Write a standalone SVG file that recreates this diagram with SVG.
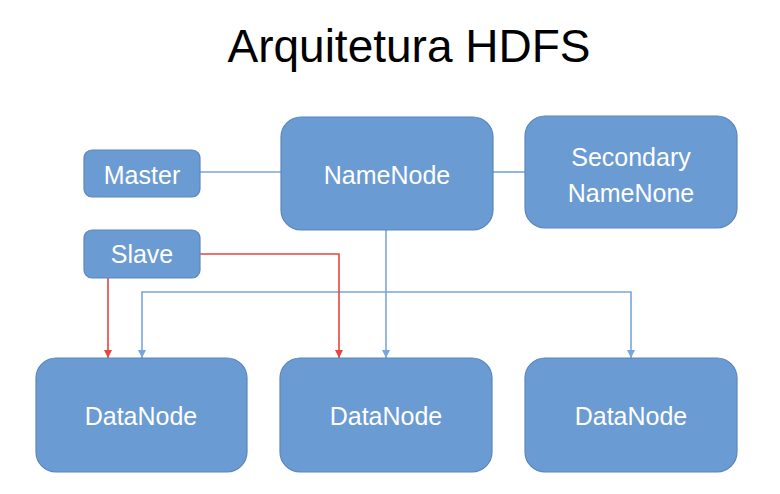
<svg xmlns="http://www.w3.org/2000/svg" width="780" height="494" viewBox="0 0 780 494">
<style>
.node{fill:#6b9bd3;stroke:#5a86bd;stroke-width:1.2}
.lbl{font-family:"Liberation Sans",Arial,sans-serif;font-size:25px;fill:#ffffff;text-anchor:middle}
.title{font-family:"Liberation Sans",Arial,sans-serif;font-size:46px;fill:#000;text-anchor:middle}
.blue{stroke:#79a5dc;stroke-width:1.6;fill:none}
.red{stroke:#e8453c;stroke-width:1.6;fill:none}
</style>
<defs>
<marker id="ab" viewBox="0 0 10 10" refX="10" refY="5" markerWidth="5" markerHeight="5" markerUnits="strokeWidth" orient="auto"><path d="M0,0L10,5L0,10z" fill="#79a5dc"/></marker>
<marker id="ar" viewBox="0 0 10 10" refX="10" refY="5" markerWidth="5" markerHeight="5" markerUnits="strokeWidth" orient="auto"><path d="M0,0L10,5L0,10z" fill="#e8453c"/></marker>
</defs>
<rect width="780" height="494" fill="#ffffff"/>
<text class="title" x="409" y="62">Arquitetura HDFS</text>
<g id="connectors">
<line class="blue" x1="200" y1="172" x2="281" y2="172"/>
<line class="blue" x1="493" y1="172" x2="525" y2="172"/>
<path class="blue" d="M386,230V358" marker-end="url(#ab)"/>
<path class="blue" d="M386,292H142V358" marker-end="url(#ab)"/>
<path class="blue" d="M386,292H631V358" marker-end="url(#ab)"/>
<path class="red" d="M108,278V358" marker-end="url(#ar)"/>
<path class="red" d="M200,254H339V358" marker-end="url(#ar)"/>
</g>
<g id="master"><rect class="node" x="84" y="150" width="116" height="47" rx="8"/><text class="lbl" x="142" y="184">Master</text></g>
<g id="slave"><rect class="node" x="84" y="230" width="116" height="48" rx="8"/><text class="lbl" x="142" y="263">Slave</text></g>
<g id="namenode"><rect class="node" x="281" y="117" width="212" height="113" rx="20"/><text class="lbl" x="387" y="184">NameNode</text></g>
<g id="secondary"><rect class="node" x="525" y="116" width="212" height="112" rx="20"/><text class="lbl" x="631" y="166">Secondary</text><text class="lbl" x="631" y="202">NameNone</text></g>
<g id="datanode1"><rect class="node" x="36" y="358" width="211" height="114" rx="20"/><text class="lbl" x="141" y="425">DataNode</text></g>
<g id="datanode2"><rect class="node" x="280" y="358" width="212" height="114" rx="20"/><text class="lbl" x="386" y="425">DataNode</text></g>
<g id="datanode3"><rect class="node" x="525" y="358" width="212" height="114" rx="20"/><text class="lbl" x="631" y="425">DataNode</text></g>
</svg>
